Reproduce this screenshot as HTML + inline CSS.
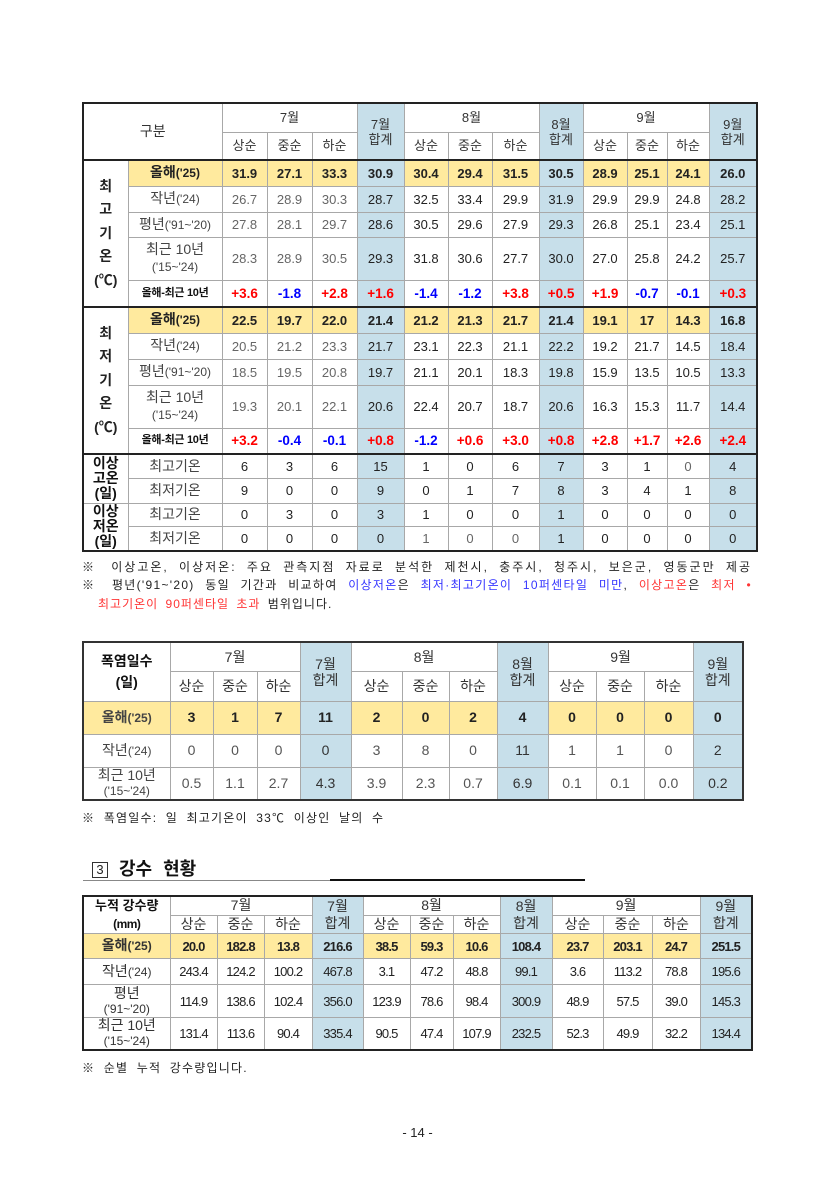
<!DOCTYPE html>
<html><head><meta charset="utf-8">
<style>
html,body{margin:0;padding:0;}
body{width:835px;height:1180px;position:relative;overflow:hidden;background:#fff;font-family:"Liberation Sans","Noto Sans CJK KR",sans-serif;color:#222;}
table{position:absolute;border-collapse:collapse;table-layout:fixed;}
td{padding:0;text-align:center;vertical-align:middle;border:1px solid #a8a8a8;font-size:13px;line-height:15px;white-space:nowrap;overflow:hidden;color:#222;}
.y{background:#FFEA9E;}
.b{background:#C7DFEA;}
.bd{font-weight:bold;}
.g{color:#666;}
.r{color:#f00;font-weight:bold;font-size:13.5px;}
.u{color:#00f;font-weight:bold;font-size:13.5px;}
.hd{color:#333;font-size:13px;line-height:15px;}
.lb{font-size:14px;color:#444;}
.lb small{font-size:12px;}
.yr td{background:#FFEA9E;font-weight:bold;color:#222;}
.yr td.b{background:#C7DFEA;}
.yr td.grp{background:#fff;}
.grp{font-weight:bold;font-size:14px;line-height:23.5px;color:#111;}
.grp2{font-weight:bold;font-size:14px;line-height:15px;color:#111;}
.dl{font-weight:bold;font-size:11px;letter-spacing:-0.3px;color:#111;}
#t1{border:2px solid #222;}
#t1 tbody{border-top:2px solid #222;}
#t2{border:2px solid #333;}
#t2 td{font-size:14px;color:#555;}
#t2 td.b{color:#333;}
#t2 .yr td{color:#222;}
#t2 td.hd{font-size:14px;color:#333;line-height:16px;}
#t2 td.lb{font-size:14px;color:#444;}
#t3{border:2px solid #222;}
#t3 td{font-size:13px;letter-spacing:-0.8px;color:#222;}
#t3 td.hd{font-size:14px;letter-spacing:0;color:#333;line-height:17px;}
#t3 td.lb{font-size:14px;letter-spacing:0;color:#333;line-height:15px;}
#t3 td.lb small{font-size:12px;}
.note{position:absolute;font-size:12px;color:#222;white-space:nowrap;line-height:16px;}
.jt{text-align:justify;text-align-last:justify;}
.bl{color:#3535ff;}
.rd{color:#ff3535;}
</style></head>
<body>

<table id="t1" style="left:82px;top:102px;width:676px">
<colgroup><col style="width:45px"><col style="width:94px"><col style="width:45px"><col style="width:45px"><col style="width:45px"><col style="width:47px"><col style="width:44px"><col style="width:44px"><col style="width:47px"><col style="width:44px"><col style="width:44px"><col style="width:40px"><col style="width:42px"><col style="width:48px"></colgroup>
<thead>
<tr style="height:29px"><td colspan="2" rowspan="2" class="hd" style="font-size:14px">구분</td><td colspan="3" class="hd">7월</td><td rowspan="2" class="b hd">7월<br>합계</td><td colspan="3" class="hd">8월</td><td rowspan="2" class="b hd">8월<br>합계</td><td colspan="3" class="hd">9월</td><td rowspan="2" class="b hd">9월<br>합계</td></tr>
<tr style="height:28px"><td class="hd">상순</td><td class="hd">중순</td><td class="hd">하순</td><td class="hd">상순</td><td class="hd">중순</td><td class="hd">하순</td><td class="hd">상순</td><td class="hd">중순</td><td class="hd">하순</td></tr>
</thead>
<tbody>
<tr class="yr" style="height:26px"><td rowspan="5" class="grp">최<br>고<br>기<br>온<br>(℃)</td><td class="lb">올해<small>('25)</small></td><td>31.9</td><td>27.1</td><td>33.3</td><td class="b">30.9</td><td>30.4</td><td>29.4</td><td>31.5</td><td class="b">30.5</td><td>28.9</td><td>25.1</td><td>24.1</td><td class="b">26.0</td></tr>
<tr style="height:26px"><td class="lb">작년<small>('24)</small></td><td class="g">26.7</td><td class="g">28.9</td><td class="g">30.3</td><td class="b">28.7</td><td>32.5</td><td>33.4</td><td>29.9</td><td class="b">31.9</td><td>29.9</td><td>29.9</td><td>24.8</td><td class="b">28.2</td></tr>
<tr style="height:25px"><td class="lb">평년<small>('91~'20)</small></td><td class="g">27.8</td><td class="g">28.1</td><td class="g">29.7</td><td class="b">28.6</td><td>30.5</td><td>29.6</td><td>27.9</td><td class="b">29.3</td><td>26.8</td><td>25.1</td><td>23.4</td><td class="b">25.1</td></tr>
<tr style="height:43px"><td class="lb" style="line-height:17px">최근 10년<br><small>('15~'24)</small></td><td class="g">28.3</td><td class="g">28.9</td><td class="g">30.5</td><td class="b">29.3</td><td>31.8</td><td>30.6</td><td>27.7</td><td class="b">30.0</td><td>27.0</td><td>25.8</td><td>24.2</td><td class="b">25.7</td></tr>
<tr style="height:27px"><td class="dl">올해-최근 10년</td><td class="r">+3.6</td><td class="u">-1.8</td><td class="r">+2.8</td><td class="b r">+1.6</td><td class="u">-1.4</td><td class="u">-1.2</td><td class="r">+3.8</td><td class="b r">+0.5</td><td class="r">+1.9</td><td class="u">-0.7</td><td class="u">-0.1</td><td class="b r">+0.3</td></tr>
</tbody>
<tbody>
<tr class="yr" style="height:26px"><td rowspan="5" class="grp">최<br>저<br>기<br>온<br>(℃)</td><td class="lb">올해<small>('25)</small></td><td>22.5</td><td>19.7</td><td>22.0</td><td class="b">21.4</td><td>21.2</td><td>21.3</td><td>21.7</td><td class="b">21.4</td><td>19.1</td><td>17</td><td>14.3</td><td class="b">16.8</td></tr>
<tr style="height:26px"><td class="lb">작년<small>('24)</small></td><td class="g">20.5</td><td class="g">21.2</td><td class="g">23.3</td><td class="b">21.7</td><td>23.1</td><td>22.3</td><td>21.1</td><td class="b">22.2</td><td>19.2</td><td>21.7</td><td>14.5</td><td class="b">18.4</td></tr>
<tr style="height:26px"><td class="lb">평년<small>('91~'20)</small></td><td class="g">18.5</td><td class="g">19.5</td><td class="g">20.8</td><td class="b">19.7</td><td>21.1</td><td>20.1</td><td>18.3</td><td class="b">19.8</td><td>15.9</td><td>13.5</td><td>10.5</td><td class="b">13.3</td></tr>
<tr style="height:43px"><td class="lb" style="line-height:17px">최근 10년<br><small>('15~'24)</small></td><td class="g">19.3</td><td class="g">20.1</td><td class="g">22.1</td><td class="b">20.6</td><td>22.4</td><td>20.7</td><td>18.7</td><td class="b">20.6</td><td>16.3</td><td>15.3</td><td>11.7</td><td class="b">14.4</td></tr>
<tr style="height:26px"><td class="dl">올해-최근 10년</td><td class="r">+3.2</td><td class="u">-0.4</td><td class="u">-0.1</td><td class="b r">+0.8</td><td class="u">-1.2</td><td class="r">+0.6</td><td class="r">+3.0</td><td class="b r">+0.8</td><td class="r">+2.8</td><td class="r">+1.7</td><td class="r">+2.6</td><td class="b r">+2.4</td></tr>
</tbody>
<tbody>
<tr style="height:24px"><td rowspan="2" class="grp2">이상<br>고온<br>(일)</td><td class="lb">최고기온</td><td>6</td><td>3</td><td>6</td><td class="b">15</td><td>1</td><td>0</td><td>6</td><td class="b">7</td><td>3</td><td>1</td><td class="g">0</td><td class="b">4</td></tr>
<tr style="height:25px"><td class="lb">최저기온</td><td>9</td><td>0</td><td>0</td><td class="b">9</td><td>0</td><td>1</td><td>7</td><td class="b">8</td><td>3</td><td>4</td><td>1</td><td class="b">8</td></tr>
<tr style="height:23px"><td rowspan="2" class="grp2" style="border-top:1px solid #555">이상<br>저온<br>(일)</td><td class="lb">최고기온</td><td>0</td><td>3</td><td>0</td><td class="b">3</td><td>1</td><td>0</td><td>0</td><td class="b">1</td><td>0</td><td>0</td><td>0</td><td class="b">0</td></tr>
<tr style="height:25px"><td class="lb">최저기온</td><td>0</td><td>0</td><td>0</td><td class="b">0</td><td class="g">1</td><td class="g">0</td><td class="g">0</td><td class="b">1</td><td>0</td><td>0</td><td>0</td><td class="b">0</td></tr>
</tbody>
</table>

<div class="note jt" style="left:82px;top:559px;width:670px;letter-spacing:2px">※ 이상고온, 이상저온: 주요 관측지점 자료로 분석한 제천시, 충주시, 청주시, 보은군, 영동군만 제공</div>
<div class="note jt" style="left:82px;top:577px;width:670px;letter-spacing:1.3px">※ 평년('91~'20) 동일 기간과 비교하여 <span class="bl">이상저온</span>은 <span class="bl">최저·최고기온이 10퍼센타일 미만</span>, <span class="rd">이상고온</span>은 <span class="rd">최저 •</span></div>
<div class="note" style="left:98px;top:596px;letter-spacing:1px;word-spacing:3px"><span class="rd">최고기온이 90퍼센타일 초과</span> 범위입니다.</div>

<table id="t2" style="left:82px;top:641px;width:662px">
<colgroup><col style="width:87px"><col style="width:43px"><col style="width:44px"><col style="width:43px"><col style="width:51px"><col style="width:51px"><col style="width:47px"><col style="width:48px"><col style="width:51px"><col style="width:48px"><col style="width:48px"><col style="width:49px"><col style="width:50px"></colgroup>
<tr style="height:29px"><td rowspan="2" class="hd bd" style="line-height:21px;color:#111">폭염일수<br>(일)</td><td colspan="3" class="hd">7월</td><td rowspan="2" class="b hd">7월<br>합계</td><td colspan="3" class="hd">8월</td><td rowspan="2" class="b hd">8월<br>합계</td><td colspan="3" class="hd">9월</td><td rowspan="2" class="b hd">9월<br>합계</td></tr>
<tr style="height:30px"><td class="hd">상순</td><td class="hd">중순</td><td class="hd">하순</td><td class="hd">상순</td><td class="hd">중순</td><td class="hd">하순</td><td class="hd">상순</td><td class="hd">중순</td><td class="hd">하순</td></tr>
<tr class="yr" style="height:33px"><td class="lb">올해<small>('25)</small></td><td>3</td><td>1</td><td>7</td><td class="b">11</td><td>2</td><td>0</td><td>2</td><td class="b">4</td><td>0</td><td>0</td><td>0</td><td class="b">0</td></tr>
<tr style="height:33px"><td class="lb">작년<small>('24)</small></td><td>0</td><td>0</td><td>0</td><td class="b">0</td><td>3</td><td>8</td><td>0</td><td class="b">11</td><td>1</td><td>1</td><td>0</td><td class="b">2</td></tr>
<tr style="height:32px"><td class="lb" style="line-height:15px">최근 10년<br><small>('15~'24)</small></td><td>0.5</td><td>1.1</td><td>2.7</td><td class="b">4.3</td><td>3.9</td><td>2.3</td><td>0.7</td><td class="b">6.9</td><td>0.1</td><td>0.1</td><td>0.0</td><td class="b">0.2</td></tr>
</table>

<div class="note" style="left:82px;top:810px;letter-spacing:1.2px;word-spacing:4px">※ 폭염일수: 일 최고기온이 33℃ 이상인 날의 수</div>

<div style="position:absolute;left:92px;top:862px;width:14px;height:14px;border:1px solid #333;font-size:13px;line-height:14px;text-align:center;color:#222">3</div>
<div style="position:absolute;left:119px;top:857px;font-size:18px;font-weight:bold;line-height:24px;word-spacing:6px;color:#111;white-space:nowrap">강수 현황</div>
<div style="position:absolute;left:83px;top:880px;width:248px;height:1px;background:#888"></div>
<div style="position:absolute;left:330px;top:879px;width:255px;height:2px;background:#111"></div>

<table id="t3" style="left:82px;top:895px;width:671px">
<colgroup><col style="width:87px"><col style="width:47px"><col style="width:47px"><col style="width:48px"><col style="width:51px"><col style="width:47px"><col style="width:43px"><col style="width:47px"><col style="width:52px"><col style="width:51px"><col style="width:49px"><col style="width:48px"><col style="width:52px"></colgroup>
<tr style="height:19px"><td rowspan="2" class="hd bd" style="color:#111;font-size:13px;line-height:18px">누적 강수량<br><span style="font-size:12px;letter-spacing:-0.5px">(mm)</span></td><td colspan="3" class="hd">7월</td><td rowspan="2" class="b hd">7월<br>합계</td><td colspan="3" class="hd">8월</td><td rowspan="2" class="b hd">8월<br>합계</td><td colspan="3" class="hd">9월</td><td rowspan="2" class="b hd">9월<br>합계</td></tr>
<tr style="height:18px"><td class="hd">상순</td><td class="hd">중순</td><td class="hd">하순</td><td class="hd">상순</td><td class="hd">중순</td><td class="hd">하순</td><td class="hd">상순</td><td class="hd">중순</td><td class="hd">하순</td></tr>
<tr class="yr" style="height:25px"><td class="lb">올해<small>('25)</small></td><td>20.0</td><td>182.8</td><td>13.8</td><td class="b">216.6</td><td>38.5</td><td>59.3</td><td>10.6</td><td class="b">108.4</td><td>23.7</td><td>203.1</td><td>24.7</td><td class="b">251.5</td></tr>
<tr style="height:26px"><td class="lb">작년<small>('24)</small></td><td>243.4</td><td>124.2</td><td>100.2</td><td class="b">467.8</td><td>3.1</td><td>47.2</td><td>48.8</td><td class="b">99.1</td><td>3.6</td><td>113.2</td><td>78.8</td><td class="b">195.6</td></tr>
<tr style="height:33px"><td class="lb">평년<br><small>('91~'20)</small></td><td>114.9</td><td>138.6</td><td>102.4</td><td class="b">356.0</td><td>123.9</td><td>78.6</td><td>98.4</td><td class="b">300.9</td><td>48.9</td><td>57.5</td><td>39.0</td><td class="b">145.3</td></tr>
<tr style="height:31px"><td class="lb">최근 10년<br><small>('15~'24)</small></td><td>131.4</td><td>113.6</td><td>90.4</td><td class="b">335.4</td><td>90.5</td><td>47.4</td><td>107.9</td><td class="b">232.5</td><td>52.3</td><td>49.9</td><td>32.2</td><td class="b">134.4</td></tr>
</table>

<div class="note" style="left:82px;top:1060px;letter-spacing:1.2px;word-spacing:4px">※ 순별 누적 강수량입니다.</div>

<div style="position:absolute;left:0;width:835px;top:1124px;text-align:center;font-size:13px;line-height:18px;color:#222">- 14 -</div>

</body></html>
